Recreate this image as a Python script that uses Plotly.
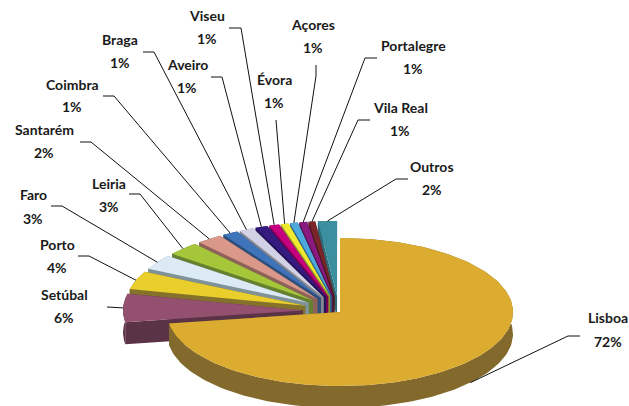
import math
import plotly.graph_objects as go

# ---- data (clockwise from 12 o'clock) ----
names = ["Lisboa", "Setúbal", "Porto", "Faro", "Leiria", "Santarém", "Coimbra", "Braga",
         "Aveiro", "Viseu", "Évora", "Açores", "Portalegre", "Vila Real", "Outros"]
shares = [72.49, 6.1, 3.9, 3.2, 2.9, 2.3, 1.4, 1.3, 1.1, 0.9, 0.7, 0.7, 0.7, 0.6, 1.7]
labels = ["72%", "6%", "4%", "3%", "3%", "2%", "1%", "1%", "1%", "1%", "1%", "1%", "1%", "1%", "2%"]

top_colors = ["#DBAC2F", "#94506F", "#E9CE2C", "#DCEAF5", "#A6C63A", "#D99889", "#3F74BA", "#D3D1E6",
              "#351A80", "#C6007F", "#F0E92E", "#4EA9DE", "#8A1A80", "#7A2629", "#3C8F9E"]
side_colors = ["#83692C", "#5B3347", "#84722A", "#7F9297", "#65802F", "#8E6259", "#2E4F7C", "#85868F",
               "#23145A", "#7A0050", "#8F9030", "#2F6A8A", "#551250", "#4A1A1C", "#2F6A75"]

# ---- layout constants ----
W, H = 629, 406
main_c = (340, 312); main_r = (173, 74)
rest_c = (339, 311); rest_r = (180, 75)
depth = 22
explode = 36.0
FONT = dict(family="Lato", size=14, color="#1a1a1a", weight=700)

# label centre x, name y, percent y, leader start, elbow
label_pos = {
    "Lisboa":     (608, 318, 342, (580, 336), (568, 336)),
    "Setúbal":    (64, 295, 318, (107, 307), None),
    "Porto":      (57, 245, 268, (78, 256), (89, 256)),
    "Faro":       (33, 195, 219, (51, 206), (62, 206)),
    "Leiria":     (109, 184, 207, (129, 194), (140, 194)),
    "Santarém":   (44, 130, 153, (80, 142), (91, 142)),
    "Coimbra":    (72, 85, 107, (103, 96), (114, 96)),
    "Braga":      (120, 40, 63, (143, 52), (154, 52)),
    "Aveiro":     (187, 65, 88, (211, 77), (222, 77)),
    "Viseu":      (207, 16, 39, (229, 28), (241, 28)),
    "Évora":      (274, 80, 103, (276, 120), None),
    "Açores":     (313, 25, 48, (316, 65), (316, 76)),
    "Portalegre": (413, 46, 69, (377, 58), (365, 58)),
    "Vila Real":  (400, 108, 131, (370, 120), (358, 120)),
    "Outros":     (432, 167, 190, (408, 179), (396, 179)),
}

fig = go.Figure()


def poly(xs, ys, color):
    fig.add_trace(go.Scatter(x=xs, y=ys, mode="lines", fill="toself", fillcolor=color,
                             line=dict(width=0, color=color), hoverinfo="skip", showlegend=False))


def wedge(cx, cy, rx, ry, a0, a1):
    n = max(4, int(math.degrees(a1 - a0) / 1.5))
    return [(cx + rx * math.sin(a0 + (a1 - a0) * i / n), cy - ry * math.cos(a0 + (a1 - a0) * i / n))
            for i in range(n + 1)]


def draw_slice(c, r, a0, a1, top, side):
    arc = wedge(c[0], c[1], r[0], r[1], a0, a1)
    apex = c
    poly([p[0] for p in arc] + [p[0] for p in reversed(arc)],
         [p[1] for p in arc] + [p[1] + depth for p in reversed(arc)], side)
    for e in (arc[0], arc[-1]):
        poly([apex[0], e[0], e[0], apex[0]], [apex[1], e[1], e[1] + depth, apex[1] + depth], side)
    poly([apex[0]] + [p[0] for p in arc], [apex[1]] + [p[1] for p in arc], top)


total = sum(shares)
angles = []
a = 0.0
for s in shares:
    b = a + s / total * 2 * math.pi
    angles.append((a, b))
    a = b

rims = {}
for i in range(len(names) - 1, 0, -1):
    a0, a1 = angles[i]
    m = (a0 + a1) / 2
    c = (rest_c[0] + explode * math.sin(m), rest_c[1] - explode * 0.42 * math.cos(m))
    draw_slice(c, rest_r, a0, a1, top_colors[i], side_colors[i])
    rims[names[i]] = (c[0] + rest_r[0] * math.sin(m), c[1] - rest_r[1] * math.cos(m))

a0, a1 = angles[0]
draw_slice(main_c, main_r, a0, a1, top_colors[0], side_colors[0])
m = 2.29
rims["Lisboa"] = (main_c[0] + main_r[0] * math.sin(m), main_c[1] - main_r[1] * math.cos(m) + depth)

for i, name in enumerate(names):
    lx, y1, y2, start, elbow = label_pos[name]
    pts = [start] + ([elbow] if elbow else []) + [rims[name]]
    fig.add_trace(go.Scatter(x=[p[0] for p in pts], y=[p[1] for p in pts], mode="lines",
                             line=dict(color="#111111", width=1), hoverinfo="skip", showlegend=False))
    fig.add_annotation(x=lx, y=y1, text=name, showarrow=False, font=FONT, xanchor="center", yanchor="middle", yshift=1)
    fig.add_annotation(x=lx, y=y2, text=labels[i], showarrow=False, font=FONT, xanchor="center", yanchor="middle", yshift=1)

fig.update_layout(width=W, height=H, margin=dict(l=0, r=0, t=0, b=0), paper_bgcolor="white",
                  plot_bgcolor="white", showlegend=False,
                  xaxis=dict(range=[0, W], visible=False, fixedrange=True),
                  yaxis=dict(range=[H, 0], visible=False, fixedrange=True))
fig.write_html("out.html", config={"displayModeBar": False},
               post_script="document.body.style.margin='0';")
